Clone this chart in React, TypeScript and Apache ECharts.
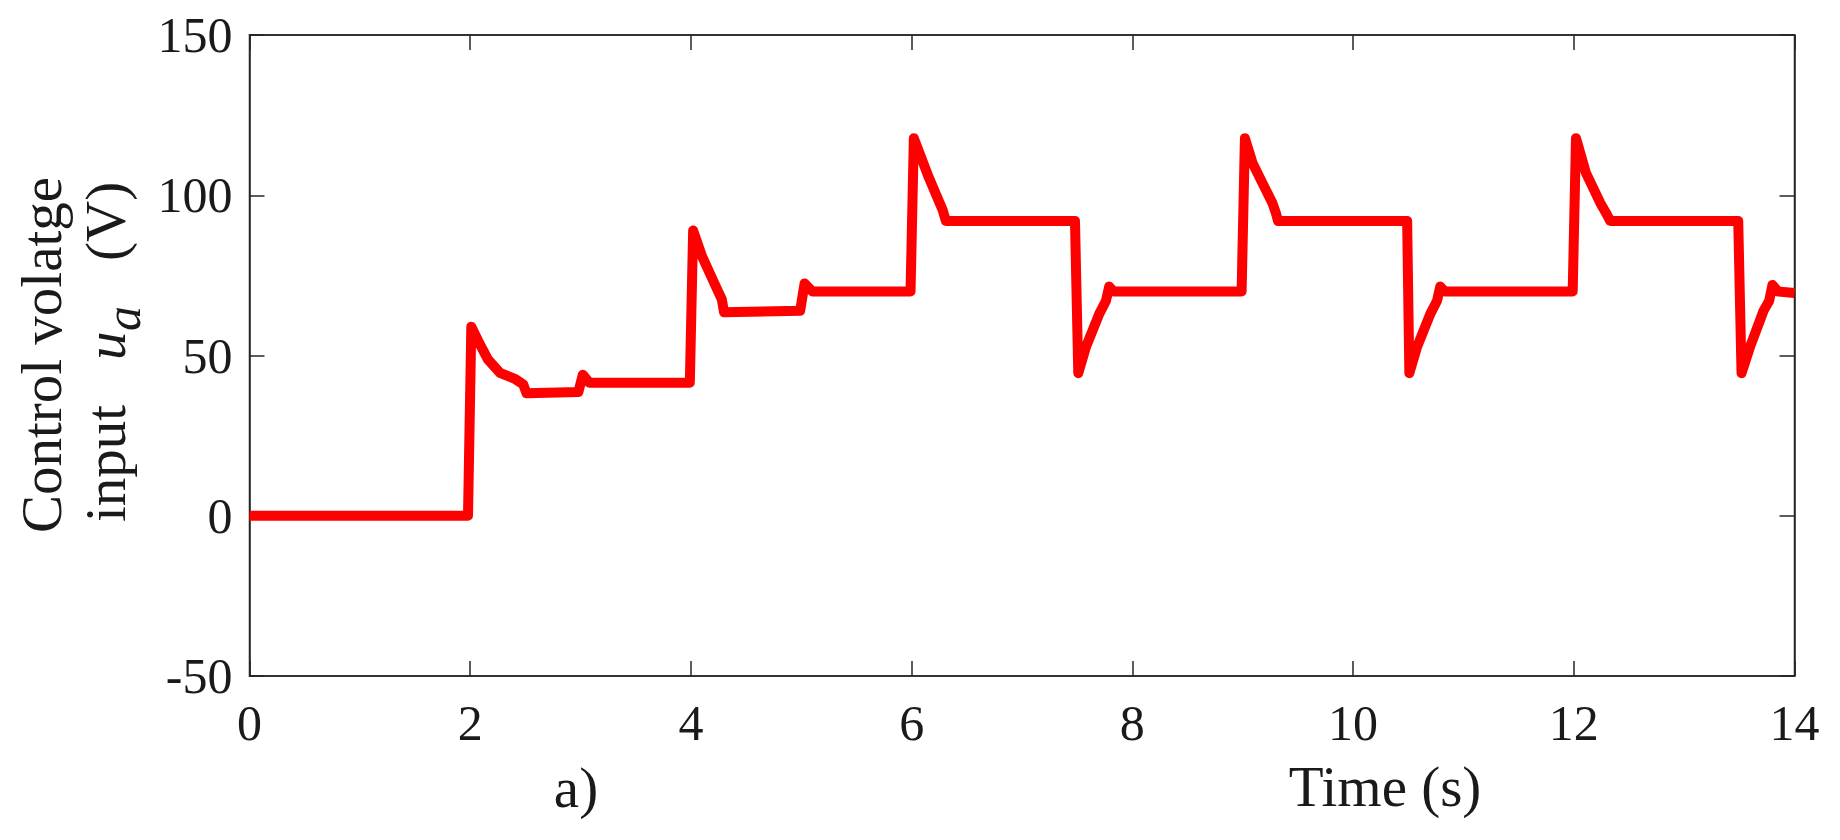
import React, { useEffect, useRef } from "react";
import * as echarts from "echarts";

// Time stamps (s) and control voltage u_a (V)
const times: number[] = [
  0, 1.98, 2.01, 2.08, 2.16, 2.27, 2.41, 2.48, 2.51, 2.98, 3.02, 3.08, 3.99,
  4.02, 4.1, 4.21, 4.28, 4.3, 4.99, 5.03, 5.1, 5.99,
  6.02, 6.15, 6.28, 6.31, 7.48, 7.51, 7.58, 7.7, 7.76, 7.79, 7.83, 8.99,
  9.02, 9.09, 9.18, 9.27, 9.3, 9.32, 10.49, 10.51, 10.58, 10.7, 10.76, 10.79, 10.83, 11.99,
  12.02, 12.11, 12.24, 12.3, 12.33, 13.49, 13.52, 13.6, 13.72, 13.77, 13.8, 13.85, 14.0,
];
const voltages: number[] = [
  0, 0, 59, 54, 48.8, 44.6, 42.6, 41, 38.2, 38.6, 44, 41.5, 41.5,
  89, 81, 72.7, 67.5, 63.5, 64, 72.5, 70, 70,
  117.8, 106, 95.5, 92, 92, 44.5, 52.7, 63, 67, 71.5, 70, 70,
  117.8, 110, 103.7, 97.5, 94.5, 92, 92, 44.5, 52.7, 63, 67, 71.5, 70, 70,
  117.8, 107, 97.6, 94, 92, 92, 44.5, 53, 64, 67, 72, 70, 69.5,
];

const xMin = 0;
const xMax = 14;
const xStep = 2;
const yMin = -50;
const yMax = 150;
const yStep = 50;

const yLabelLine1 = "Control volatge";
const yLabelWord = "input";
const yLabelSymbol = "u";
const yLabelSub = "a";
const yLabelUnit = "(V)";
const xAxisTitle = "Time (s)";
const panelTag = "a)";

const FONT = '"Liberation Serif", "Times New Roman", serif';
const AXIS_COLOR = "#262626";
const TEXT_COLOR = "#1a1a1a";

const mkLine = () => ({ show: true, onZero: false, lineStyle: { color: AXIS_COLOR, width: 1.5 } });
const mkTick = () => ({ show: true, inside: true, length: 15, lineStyle: { color: AXIS_COLOR, width: 1.5 } });

export default function App() {
  const ref = useRef<HTMLDivElement>(null);

  useEffect(() => {
    if (!ref.current) return;
    const chart = echarts.init(ref.current, undefined, { renderer: "svg" });
    const data = times.map((t, i) => [t, voltages[i]]);

    const rot = Math.PI / 2;
    const labelText = (
      text: string,
      x: number,
      y: number,
      size: number,
      italic: boolean,
      align: string
    ) => ({
      type: "text",
      x,
      y,
      rotation: rot,
      style: {
        text,
        fontSize: size,
        fontFamily: FONT,
        fontStyle: italic ? "italic" : "normal",
        fill: TEXT_COLOR,
        align,
        verticalAlign: "middle",
      },
    });

    chart.setOption({
      animation: false,
      backgroundColor: "#ffffff",
      grid: {
        left: 249.5,
        top: 35,
        width: 1545,
        height: 641,
        show: true,
        borderColor: AXIS_COLOR,
        borderWidth: 1.5,
        backgroundColor: "transparent",
      },
      xAxis: [
        {
          type: "value",
          position: "bottom",
          min: xMin,
          max: xMax,
          interval: xStep,
          axisLine: mkLine(),
          axisTick: mkTick(),
          splitLine: { show: false },
          axisLabel: {
            fontSize: 50,
            fontFamily: FONT,
            color: TEXT_COLOR,
            margin: 22,
            lineHeight: 50,
          },
        },
        {
          type: "value",
          position: "top",
          min: xMin,
          max: xMax,
          interval: xStep,
          axisLine: mkLine(),
          axisTick: mkTick(),
          splitLine: { show: false },
          axisLabel: { show: false },
        },
      ],
      yAxis: [
        {
          type: "value",
          position: "left",
          min: yMin,
          max: yMax,
          interval: yStep,
          axisLine: mkLine(),
          axisTick: mkTick(),
          splitLine: { show: false },
          axisLabel: {
            fontSize: 50,
            fontFamily: FONT,
            color: TEXT_COLOR,
            margin: 17,
          },
        },
        {
          type: "value",
          position: "right",
          min: yMin,
          max: yMax,
          interval: yStep,
          axisLine: mkLine(),
          axisTick: mkTick(),
          splitLine: { show: false },
          axisLabel: { show: false },
        },
      ],
      series: [
        {
          type: "line",
          xAxisIndex: 0,
          yAxisIndex: 0,
          data,
          showSymbol: false,
          clip: false,
          lineStyle: { color: "#ff0000", width: 10, join: "round", cap: "butt" },
        },
      ],
      graphic: [
        labelText(yLabelLine1, 41, 355, 57, false, "center"),
        labelText(yLabelWord, 105, 522, 57, false, "left"),
        labelText(yLabelSymbol, 105, 360, 57, true, "left"),
        labelText(yLabelSub, 123, 331, 50, true, "left"),
        labelText(yLabelUnit, 105, 261, 57, false, "left"),
        {
          type: "text",
          x: 1385,
          y: 786,
          style: {
            text: xAxisTitle,
            fontSize: 57,
            fontFamily: FONT,
            fill: TEXT_COLOR,
            align: "center",
            verticalAlign: "middle",
          },
        },
        {
          type: "text",
          x: 576,
          y: 787,
          style: {
            text: panelTag,
            fontSize: 57,
            fontFamily: FONT,
            fill: TEXT_COLOR,
            align: "center",
            verticalAlign: "middle",
          },
        },
      ],
    });

    return () => chart.dispose();
  }, []);

  return (
    <div
      ref={ref}
      style={{ position: "fixed", left: 0, top: 0, width: 1840, height: 840, background: "#fff" }}
    />
  );
}
